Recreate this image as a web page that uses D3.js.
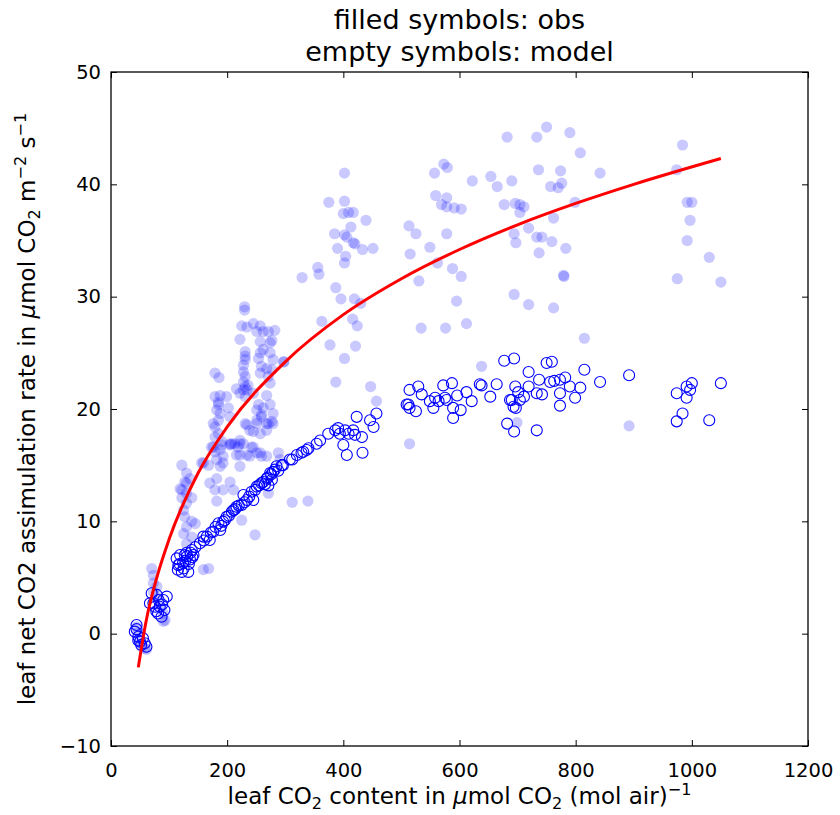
<!DOCTYPE html>
<html>
<head>
<meta charset="utf-8">
<script src="https://cdn.jsdelivr.net/npm/d3@7"></script>
<style>
  body { margin: 0; background: #fff; }
  text { font-family: "DejaVu Sans", sans-serif; fill: #000; }
</style>
</head>
<body>
<div id="chart"></div>
<script>
// observed A vs Ci (filled symbols)
var obsPoints = [
  [682,44.2],[733,44.2],[750,45.1],[790,44.6],[808,42.8],[842,41.0],[984,43.5],[974,41.3],
  [573,41.8],[579,41.5],[557,41.0],[622,40.3],[654,40.7],[665,39.8],[690,40.3],[736,41.3],[774,41.2],[757,39.8],[770,39.7],[776,40.1],
  [559,39.0],[578,38.8],[569,38.2],[578,38.0],[591,37.9],[603,37.8],[677,38.2],[696,38.3],[704,38.2],[704,37.5],[711,38.0],[799,38.4],[762,37.0],
  [513,36.3],[525,35.6],[578,35.6],[694,35.6],[719,36.1],[733,35.3],[742,35.3],[697,34.8],[759,34.9],[737,33.9],[783,34.3],
  [549,34.4],[515,33.8],[562,33.0],[588,32.5],[603,31.8],[530,31.4],[779,31.9],[780,31.8],
  [595,29.6],[694,30.2],[719,29.3],[762,29.0],[534,27.2],[576,27.2],[612,27.6],[815,26.3],
  [992,38.4],[1000,38.4],[997,36.8],[992,35.0],[1030,33.5],[975,31.6],[1050,31.3],
  [638,23.8],[699,18.8],[892,18.5],[514,16.9],
  [402,41.0],[375,38.4],[402,38.5],[400,37.4],[409,37.5],[417,37.5],[439,36.8],[413,36.2],[385,35.6],[402,35.5],
  [406,35.3],[417,34.8],[420,34.7],[390,34.3],[433,34.2],[451,34.3],[404,33.6],[402,33.0],[356,32.6],[358,32.0],
  [329,31.7],[387,30.8],[396,29.8],[419,29.8],[430,29.4],[363,27.8],[416,28.0],[424,27.4],[377,25.7],[421,25.6],
  [402,24.5],[387,22.4],[447,22.0],[457,20.7],[298,24.2],[312,11.7],[339,11.8],
  [230,29.1],[230,28.8],[225,27.4],[234,27.3],[245,27.6],[257,27.4],[222,26.2],[251,26.9],[262,26.9],[271,26.9],
  [282,27.0],[277,26.1],[257,26.0],[274,25.9],[262,25.3],[257,25.0],[274,25.0],[279,24.4],[254,24.5],[259,23.8],
  [268,23.6],[277,23.5],[257,23.2],[297,24.2],
  [231,25.1],[231,24.7],[231,24.4],[228,23.9],[228,23.3],[231,22.9],[228,22.4],[236,22.1],[228,21.7],[234,21.7],
  [179,23.2],[186,22.8],[216,21.8],[222,21.4],[231,21.1],[245,21.4],[268,21.2],[254,20.4],[262,20.1],[274,20.4],
  [259,19.3],[268,18.7],[279,18.7],[251,18.7],[234,18.6],[239,18.1],[257,17.8],[228,16.9],[245,16.6],[257,16.1],
  [239,15.8],[222,15.9],[213,16.9],[205,16.9],
  [188,21.2],[185,20.4],[182,19.9],[188,19.6],[202,20.1],[185,19.0],[179,18.4],[185,17.8],[179,17.5],[191,17.1],
  [188,16.4],[173,16.6],[193,15.8],[182,15.5],[159,15.2],[205,19.3],[288,16.1],[291,15.5],[274,22.3],[271,22.9],
  [179,21.1],[185,20.6],[176,18.7],[176,16.6],[199,21.1],[231,22.0],[251,19.9],[259,19.5],[279,19.6],[271,18.7],
  [277,18.9],[251,19.0],[231,18.7],[245,18.0],[268,18.1],[219,16.6],[242,16.6],[259,15.8],[234,15.9],[268,15.8],
  [208,16.9],[222,17.2],[191,16.8],
  [122,15.0],[130,14.3],[130,13.4],[122,12.8],[156,15.2],[170,13.4],[179,12.8],[127,13.5],[136,13.8],[119,12.9],
  [130,12.5],[122,12.1],[139,12.1],[130,11.6],[125,11.0],[127,10.4],[139,10.0],[145,9.8],[130,9.5],[125,8.9],
  [139,8.6],[130,8.0],
  [182,13.8],[188,14.9],[193,12.8],[182,11.8],[205,13.5],[211,12.8],[216,15.9],[251,16.1],[222,14.9],[193,15.2],
  [168,15.0],[179,16.2],[205,16.8],[222,16.9],
  [159,5.7],[168,5.8],[225,10.1],[248,8.8],[271,12.5],
  [70,5.8],[73,5.2],[73,4.5],[79,4.2],[73,3.7],[81,3.3],[84,2.4],[90,1.8],[93,1.2],[90,1.1],
  [44,0.6],[48,-0.5],[52,-1.1],[58,-1.3],[61,-1.4],[46,0.1]
];

// modelled A vs Ci (empty symbols)
var modelPoints = [
  [44,0.77],[41,0.18],[47,-0.27],[50,-0.71],[58,-0.85],[61,-1.16],[47,-0.6],[52,-1.0],[55,-0.4],[44,0.4],
  [70,3.6],[79,3.45],[90,3.0],[73,2.7],[84,2.4],[67,2.7],[76,2.4],[96,3.3],[81,1.8],[87,1.5],[92,2.1],[82,3.0],[88,2.6],[78,2.0],
  [113,6.7],[116,6.1],[124,6.3],[130,7.2],[139,7.45],[145,7.7],[122,5.5],[133,5.5],[136,6.6],[119,7.0],[127,7.0],
  [142,7.0],[134,6.2],[128,6.5],[118,6.2],[125,5.8],[131,6.9],[137,7.2],[140,6.8],[115,5.7],
  [153,8.05],[165,8.64],[176,9.08],[159,8.64],[170,8.34],[185,9.83],[193,9.97],[188,9.23],[199,10.4],[208,10.86],
  [216,11.3],[211,11.0],[225,11.45],[234,11.9],[228,12.35],[242,12.64],[245,11.9],[251,13.1],[259,13.4],[268,13.8],
  [274,14.3],[279,14.4],[285,14.9],[277,13.7],[271,13.2],[294,15.0],[308,15.5],[320,15.9],[331,16.2],[337,16.35],
  [160,8.3],[172,9.0],[180,9.5],[190,9.6],[196,10.1],[203,10.5],[214,11.1],[220,11.4],[230,11.7],[238,12.2],
  [248,12.8],[255,13.2],[262,13.5],[265,13.3],[270,13.9],[276,14.2],[282,14.6],[288,14.5],
  [296,15.0],[312,15.5],[328,16.1],[340,16.5],[354,16.9],[360,17.2],[374,17.8],[386,18.1],[394,17.8],[403,18.1],
  [409,17.8],[417,18.1],[423,19.3],[432,17.5],[400,16.8],[406,15.9],[433,16.1],[446,19.0],[457,19.6],[452,18.4],
  [420,17.7],[391,18.3],
  [514,21.7],[529,22.0],[535,21.3],[512,20.4],[514,20.1],[525,19.8],[549,20.7],[558,21.0],[564,20.7],[572,22.1],
  [575,21.0],[578,20.8],[587,22.3],[589,19.2],[596,21.2],[602,19.9],[612,21.5],[621,20.7],[635,22.2],[653,21.1],
  [664,22.2],[677,24.3],[694,24.5],[682,18.7],[694,18.0],[690,20.8],[697,20.1],[696,22.0],[701,21.5],[704,20.8],
  [711,21.1],[719,23.3],[719,22.0],[733,18.1],[733,21.4],[742,21.3],[737,22.6],[750,24.1],[759,24.2],[756,22.4],
  [763,22.5],[773,22.6],[782,22.8],[773,21.4],[773,20.3],[790,22.0],[799,21.0],[808,21.9],[815,23.5],[842,22.4],
  [892,23.0],[693,20.2],[687,20.8],[638,22.1],[509,20.4],[555,20.1],[589,20.1],
  [974,21.4],[991,22.0],[1000,22.3],[997,21.7],[991,21.0],[984,19.6],[974,18.9],[1030,19.0],[1050,22.3]
];

// red fitted curve
var fitX = [47, 60, 80, 100, 150, 200, 300, 400, 500, 600, 700, 800, 900, 1050];
var fitY = [-3.0, 1.0, 5.2, 8.4, 14.3, 18.4, 24.2, 28.4, 31.6, 34.2, 36.4, 38.3, 40.0, 42.3];

var xTicks = [0, 200, 400, 600, 800, 1000, 1200];
var yTicks = [-10, 0, 10, 20, 30, 40, 50];

var width = 840, height = 815;
var margin = {top: 72, right: 32, bottom: 69, left: 111};

var svg = d3.select("#chart").append("svg")
    .attr("width", width)
    .attr("height", height);

var x = d3.scaleLinear().domain([0, 1200]).range([margin.left, width - margin.right]);
var y = d3.scaleLinear().domain([-10, 50]).range([height - margin.bottom, margin.top]);

var fmt = function(d){ return d < 0 ? "\u2212" + Math.abs(d) : "" + d; };

// ticks point inwards, on all four sides
svg.append("g")
    .attr("class", "x axis")
    .attr("transform", "translate(0," + y.range()[0] + ")")
    .call(d3.axisBottom(x).tickValues(xTicks).tickFormat(fmt).tickSize(-6).tickPadding(17));
svg.append("g")
    .attr("transform", "translate(0," + y.range()[1] + ")")
    .call(d3.axisTop(x).tickValues(xTicks).tickFormat("").tickSize(-6));
svg.append("g")
    .attr("class", "y axis")
    .attr("transform", "translate(" + x.range()[0] + ",0)")
    .call(d3.axisLeft(y).tickValues(yTicks).tickFormat(fmt).tickSize(-6).tickPadding(10));
svg.append("g")
    .attr("transform", "translate(" + x.range()[1] + ",0)")
    .call(d3.axisRight(y).tickValues(yTicks).tickFormat("").tickSize(-6));

svg.selectAll(".domain").remove();
svg.selectAll(".tick line").attr("stroke", "#000").attr("stroke-width", 1);
svg.selectAll(".tick text")
    .style("font-family", "'DejaVu Sans', sans-serif")
    .style("font-size", "19.5px")
    .attr("fill", "#000");

// clip marks to plot area
svg.append("clipPath").attr("id", "plotClip")
  .append("rect")
    .attr("x", x.range()[0]).attr("y", y.range()[1])
    .attr("width", x.range()[1] - x.range()[0])
    .attr("height", y.range()[0] - y.range()[1]);

var plot = svg.append("g").attr("clip-path", "url(#plotClip)");

// filled symbols: obs
plot.append("g").selectAll("circle")
    .data(obsPoints)
  .enter().append("circle")
    .attr("cx", function(d){ return x(d[0]); })
    .attr("cy", function(d){ return y(d[1]); })
    .attr("r", 5.6)
    .attr("fill", "blue")
    .attr("fill-opacity", 0.21)
    .attr("stroke", "none");

// empty symbols: model
plot.append("g").selectAll("circle")
    .data(modelPoints)
  .enter().append("circle")
    .attr("cx", function(d){ return x(d[0]); })
    .attr("cy", function(d){ return y(d[1]); })
    .attr("r", 5.5)
    .attr("fill", "none")
    .attr("stroke", "blue")
    .attr("stroke-width", 1.1);

// fitted curve
var line = d3.line()
    .x(function(d){ return x(d); })
    .y(function(d, i){ return y(fitY[i]); })
    .curve(d3.curveMonotoneX);

plot.append("path")
    .datum(fitX)
    .attr("d", line)
    .attr("fill", "none")
    .attr("stroke", "red")
    .attr("stroke-width", 3);

// frame
svg.append("rect")
    .attr("x", x.range()[0]).attr("y", y.range()[1])
    .attr("width", x.range()[1] - x.range()[0])
    .attr("height", y.range()[0] - y.range()[1])
    .attr("fill", "none")
    .attr("stroke", "#000")
    .attr("stroke-width", 1.3);

// title
var title = svg.append("text")
    .attr("text-anchor", "middle")
    .style("font-size", "27px");
title.append("tspan").attr("x", (x.range()[0] + x.range()[1]) / 2).attr("y", 29).text("filled symbols: obs");
title.append("tspan").attr("x", (x.range()[0] + x.range()[1]) / 2).attr("y", 61).text("empty symbols: model");

// label with sub/superscripts
function richLabel(sel, parts, size){
    var shift = 0;
    parts.forEach(function(p){
        var t = sel.append("tspan").text(p.t);
        var target = p.sub ? 0.2 : (p.sup ? -0.38 : 0);
        if (target !== shift){
            t.attr("dy", ((target - shift) * size) + "px");
            shift = target;
        }
        if (p.sub || p.sup) t.style("font-size", (size * 0.7) + "px");
        if (p.it) t.style("font-style", "italic");
    });
}

var xLabel = svg.append("text")
    .attr("text-anchor", "middle")
    .attr("x", (x.range()[0] + x.range()[1]) / 2)
    .attr("y", 804)
    .style("font-size", "23px");
richLabel(xLabel, [
    {t: "leaf CO"}, {t: "2", sub: true}, {t: " content in "}, {t: "\u03bc", it: true},
    {t: "mol CO"}, {t: "2", sub: true}, {t: " (mol air)"}, {t: "\u22121", sup: true}
], 23);

var yLabel = svg.append("text")
    .attr("text-anchor", "middle")
    .attr("transform", "translate(35," + ((y.range()[0] + y.range()[1]) / 2) + ") rotate(-90)")
    .style("font-size", "23px");
richLabel(yLabel, [
    {t: "leaf net CO2 assimulation rate in "}, {t: "\u03bc", it: true}, {t: "mol CO"}, {t: "2", sub: true},
    {t: " m"}, {t: "\u22122", sup: true}, {t: " s"}, {t: "\u22121", sup: true}
], 23);
</script>
</body>
</html>
